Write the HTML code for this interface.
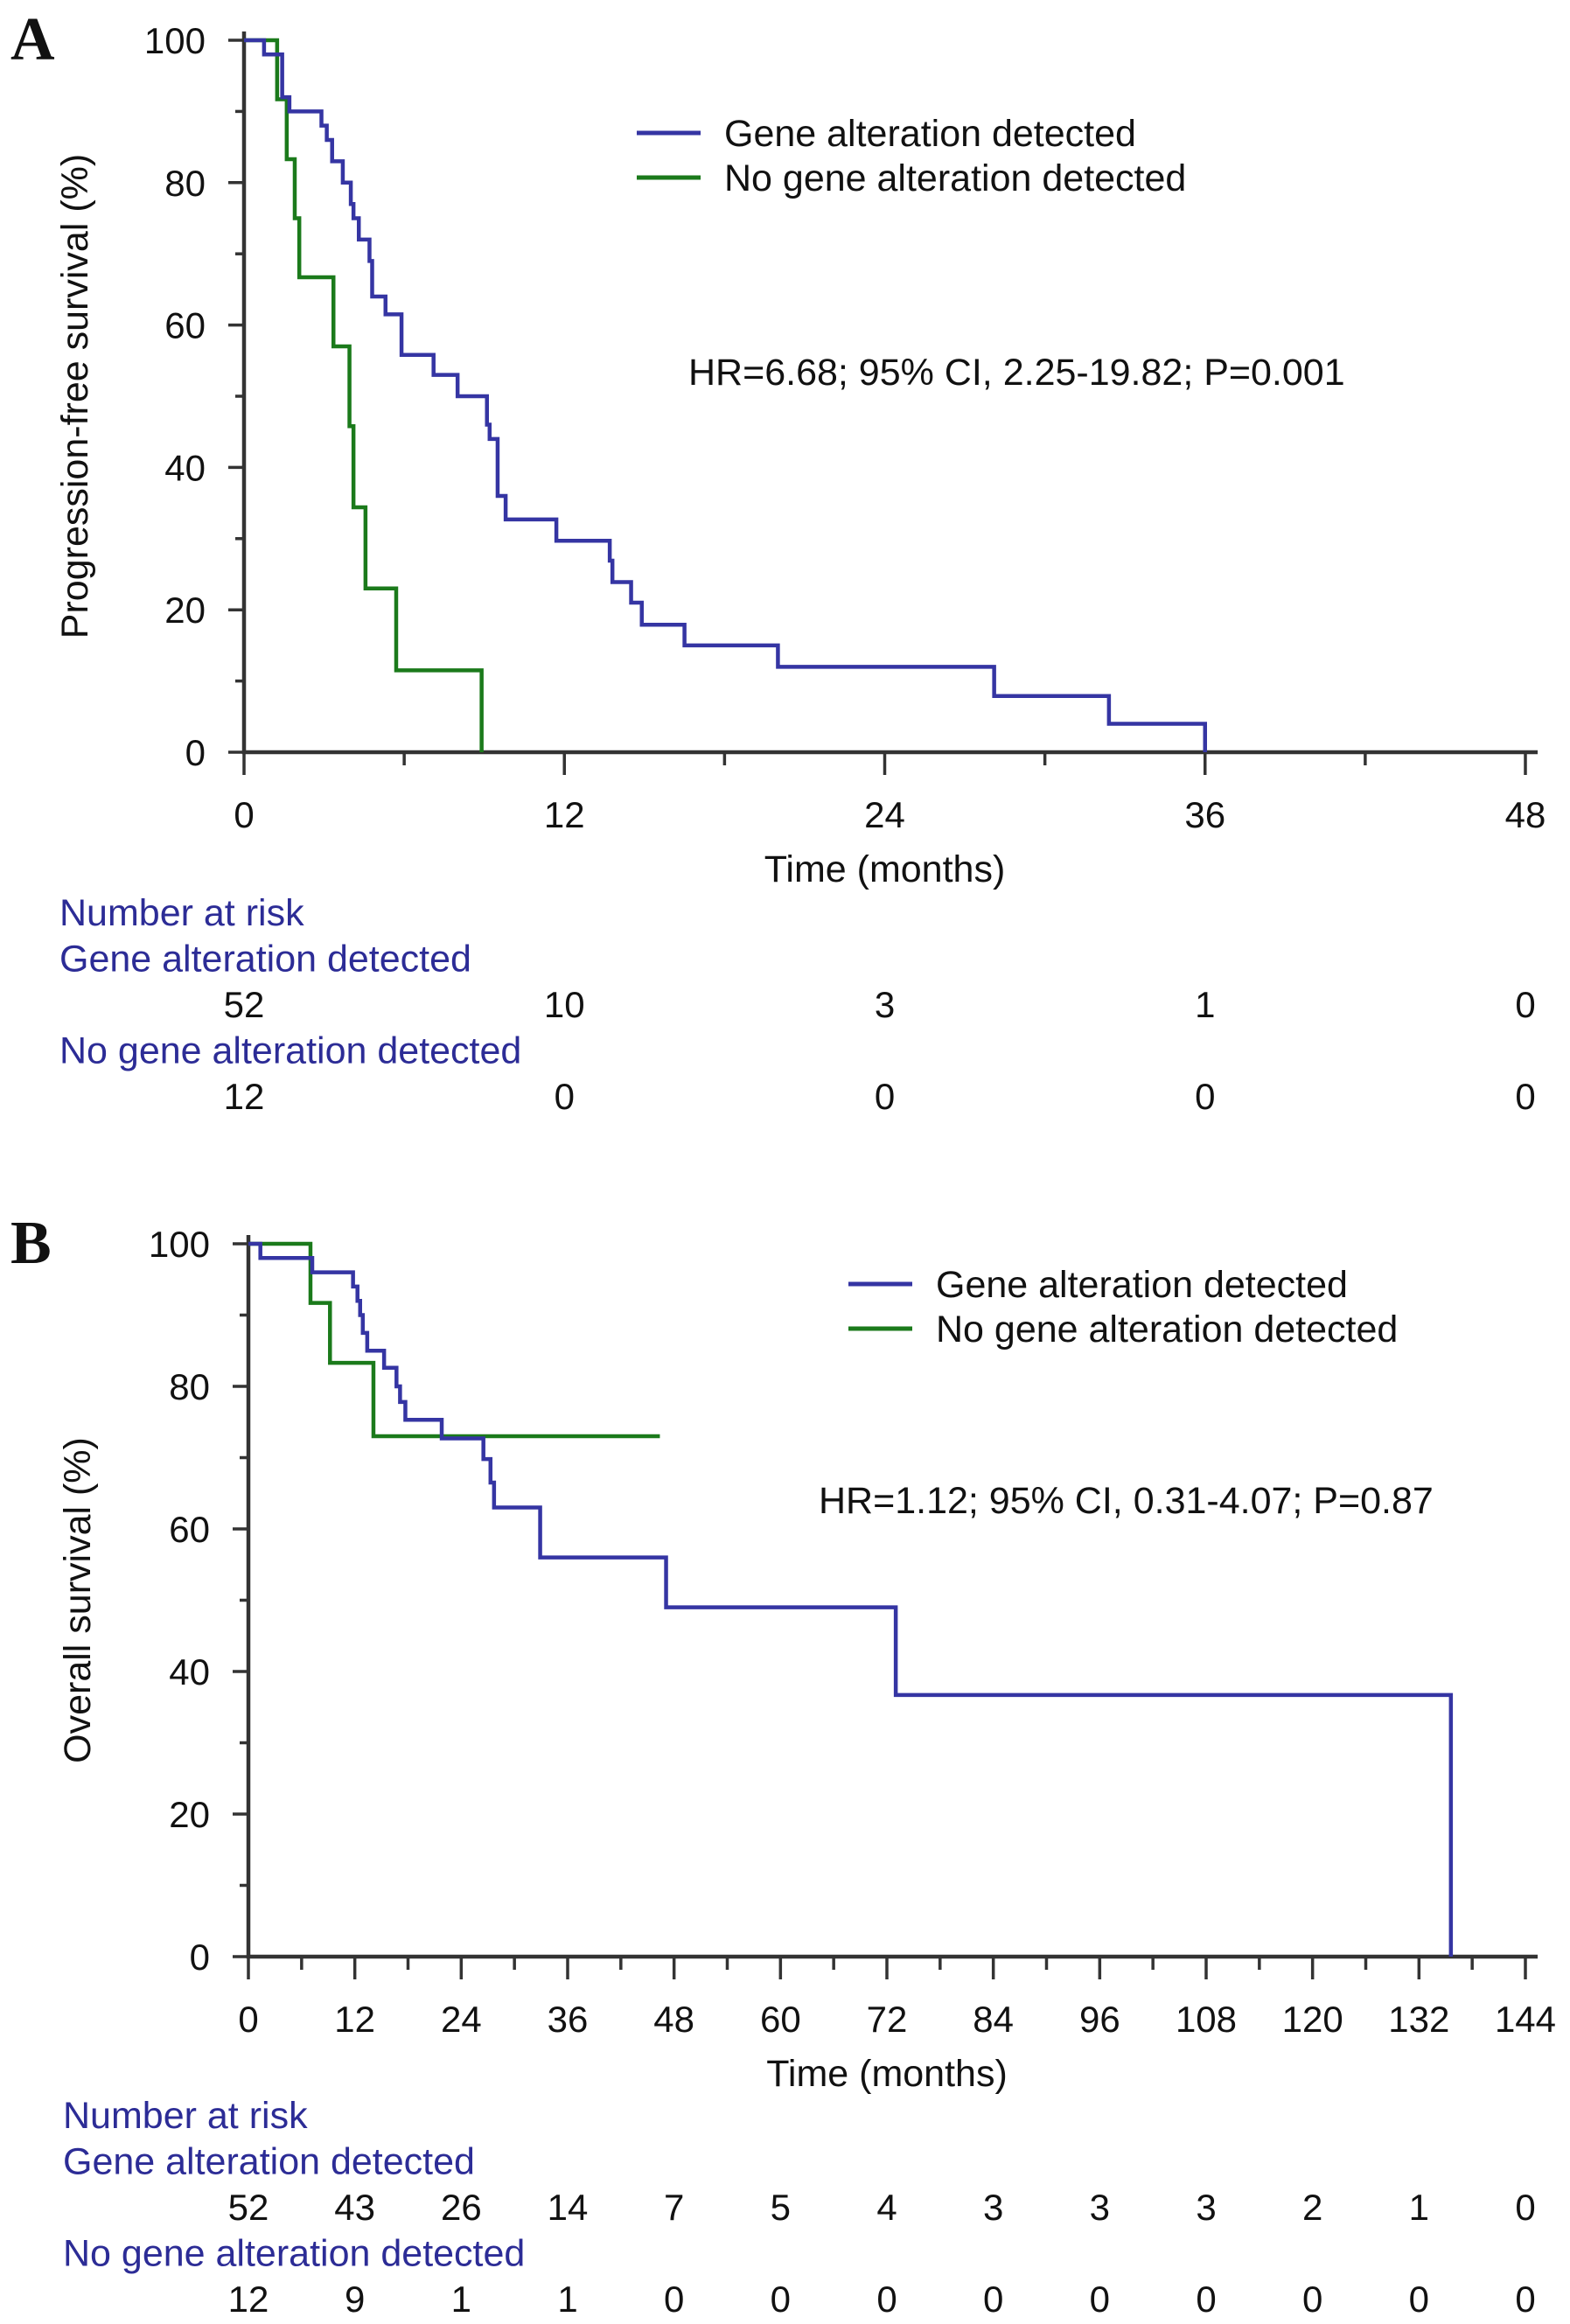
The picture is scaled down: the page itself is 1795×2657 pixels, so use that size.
<!DOCTYPE html>
<html><head><meta charset="utf-8"><style>
html,body{margin:0;padding:0;background:#fff;}
svg{display:block;}
text{font-family:"Liberation Sans",Arial,sans-serif;}
text.letter{font-family:"Liberation Serif","Times New Roman",serif;font-weight:bold;}
</style></head><body>
<svg id="fig" xmlns="http://www.w3.org/2000/svg" width="1795" height="2657" viewBox="0 0 1795 2657">
<g id="panelA"></g>
<g id="panelB"></g>
</svg>
<script>
// ---- Panel A data (progression-free survival) ----
const aBlueTimes = [0,0.75,1.43,1.7,2.9,3.1,3.3,3.7,4.0,4.1,4.3,4.7,4.8,5.3,5.9,7.1,8.0,9.1,9.2,9.5,9.8,11.7,13.7,13.8,14.5,14.9,16.5,20.0,28.1,32.4,36.0];
const aBlueSurv  = [100,98,92,90,88,86,83,80,77,75,72,69,64,61.5,55.8,53,50,46,44,36,32.7,29.7,26.9,23.9,21,17.9,15,12,7.9,4,0];
const aGreenTimes = [0,1.24,1.6,1.9,2.07,3.35,3.95,4.1,4.55,5.7,8.9];
const aGreenSurv  = [100,91.7,83.3,75,66.7,57,45.8,34.4,23,11.5,0];
const aXTicks = [0,12,24,36,48];
const aYTicks = [0,20,40,60,80,100];
const aRiskGene = [52,10,3,1,0];
const aRiskNo = [12,0,0,0,0];
// ---- Panel B data (overall survival) ----
const bBlueTimes = [0,1.35,7.2,11.8,12.3,12.6,12.9,13.4,15.3,16.7,17.1,17.7,21.8,26.5,27.3,27.7,32.9,47.1,73.0,135.6];
const bBlueSurv  = [100,98,96,94,92,90,87.5,85,82.6,80,77.8,75.3,72.7,69.8,66.5,63,56,49,36.7,0];
const bGreenTimes = [0,7.0,9.2,14.1];
const bGreenSurv  = [100,91.7,83.3,73];
const bGreenEnd = 46.4;
const bXTicks = [0,12,24,36,48,60,72,84,96,108,120,132,144];
const bYTicks = [0,20,40,60,80,100];
const bRiskGene = [52,43,26,14,7,5,4,3,3,3,2,1,0];
const bRiskNo = [12,9,1,1,0,0,0,0,0,0,0,0,0];

const NS="http://www.w3.org/2000/svg";
const BLUE="#3535a3", GREEN="#1b7a1b", AX="#333", RISK="#2c2c96";
const FT=42, FL=43;
function mk(parent,tag,attrs,txt){const e=document.createElementNS(NS,tag);for(const k in attrs)e.setAttribute(k,attrs[k]);if(txt!==undefined)e.textContent=txt;parent.appendChild(e);return e;}

function drawPanel(g,cfg){
  const sx=t=>cfg.x0+(t/cfg.xmax)*(cfg.x1-cfg.x0);
  const sy=v=>cfg.y0-(v/100)*(cfg.y0-cfg.y100);
  let t=mk(g,'text',{x:12,y:cfg.y100+22,'class':'letter','font-size':70,fill:'#111'},cfg.letter);
  
  
  let ax=mk(g,'path',{d:`M${cfg.x0},${cfg.y100-10} L${cfg.x0},${cfg.y0} L${cfg.xend},${cfg.y0}`,fill:'none',stroke:AX,'stroke-width':4.5});
  
  
  for(let v=0;v<=100;v+=10){
    const major=v%20===0;
    const tk=mk(g,'line',{x1:cfg.x0-(major?18:10),x2:cfg.x0,y1:sy(v),y2:sy(v),stroke:AX,'stroke-width':3.5});
    
    
  }
  cfg.yTicks.forEach(v=>{
    const l=mk(g,'text',{x:cfg.x0-44,y:sy(v)+15,'text-anchor':'end','font-size':FT,fill:'#111'},String(v));
    
    
  });
  const maxT=cfg.xTicks[cfg.xTicks.length-1];
  for(let m=0;m<=maxT;m+=6){
    const major=m%12===0;
    const tk=mk(g,'line',{x1:sx(m),x2:sx(m),y1:cfg.y0,y2:cfg.y0+(major?26:15),stroke:AX,'stroke-width':3.5});
    
    
  }
  cfg.xTicks.forEach(m=>{
    const l=mk(g,'text',{x:sx(m),y:cfg.y0+86,'text-anchor':'middle','font-size':FT,fill:'#111'},String(m));
    
    
  });
  let xt=mk(g,'text',{x:(cfg.x0+cfg.x1)/2,y:cfg.y0+148,'text-anchor':'middle','font-size':FL,fill:'#111'},'Time (months)');
  
  
  let yt=mk(g,'text',{x:0,y:0,'text-anchor':'middle','font-size':FL,fill:'#111',transform:`translate(${cfg.ytx},${(cfg.y0+cfg.y100)/2}) rotate(-90)`},cfg.ytitle);
  
  
  function curve(times,surv,end,color,name){
    let d=`M${sx(times[0])},${sy(surv[0])}`;
    for(let i=1;i<times.length;i++){d+=` H${sx(times[i])} V${sy(surv[i])}`;}
    if(end!==null)d+=` H${sx(end)}`;
    const p=mk(g,'path',{d,fill:'none',stroke:color,'stroke-width':4.5});
    
    
  }
  curve(cfg.gT,cfg.gS,cfg.gEnd,GREEN,'curve-no-gene-alteration');
  curve(cfg.bT,cfg.bS,null,BLUE,'curve-gene-alteration');
  [[BLUE,'Gene alteration detected'],[GREEN,'No gene alteration detected']].forEach((e,i)=>{
    const y=cfg.legY+i*51;
    const ln=mk(g,'line',{x1:cfg.legX,x2:cfg.legX+73,y1:y,y2:y,stroke:e[0],'stroke-width':5});
    
    
    const tx=mk(g,'text',{x:cfg.legX+100,y:y+15,'font-size':FL,fill:'#111'},e[1]);
    
    
  });
  let hr=mk(g,'text',{x:cfg.hrX,y:cfg.hrY+15,'font-size':FL,fill:'#111'},cfg.hr);
  
  
  const r0=cfg.riskY;
  [['Number at risk',0],['Gene alteration detected',1],['No gene alteration detected',3]].forEach(e=>{
    const tx=mk(g,'text',{x:cfg.riskX,y:r0+e[1]*52.5+15,'font-size':FL,fill:RISK},e[0]);
    
    
  });
  cfg.riskG.forEach((n,i)=>{
    const tx=mk(g,'text',{x:sx(cfg.xTicks[i]),y:r0+2*52.5+15,'text-anchor':'middle','font-size':FT,fill:'#111'},String(n));
    
    
  });
  cfg.riskN.forEach((n,i)=>{
    const tx=mk(g,'text',{x:sx(cfg.xTicks[i]),y:r0+4*52.5+15,'text-anchor':'middle','font-size':FT,fill:'#111'},String(n));
    
    
  });
}

drawPanel(document.getElementById('panelA'),{
  letter:'A',x0:279,x1:1744,xend:1758,xmax:48,y0:860,y100:46,
  xTicks:aXTicks,yTicks:aYTicks,ytx:100,ytitle:'Progression-free survival (%)',
  bT:aBlueTimes,bS:aBlueSurv,gT:aGreenTimes,gS:aGreenSurv,gEnd:null,
  legX:728,legY:152,hrX:787,hrY:425,hr:'HR=6.68; 95% CI, 2.25-19.82; P=0.001',
  riskX:68,riskY:1043,riskG:aRiskGene,riskN:aRiskNo
});
drawPanel(document.getElementById('panelB'),{
  letter:'B',x0:284,x1:1744,xend:1758,xmax:144,y0:2237,y100:1422,
  xTicks:bXTicks,yTicks:bYTicks,ytx:103,ytitle:'Overall survival (%)',
  bT:bBlueTimes,bS:bBlueSurv,gT:bGreenTimes,gS:bGreenSurv,gEnd:bGreenEnd,
  legX:970,legY:1468,hrX:936,hrY:1715,hr:'HR=1.12; 95% CI, 0.31-4.07; P=0.87',
  riskX:72,riskY:2418,riskG:bRiskGene,riskN:bRiskNo
});
</script>
</body></html>
